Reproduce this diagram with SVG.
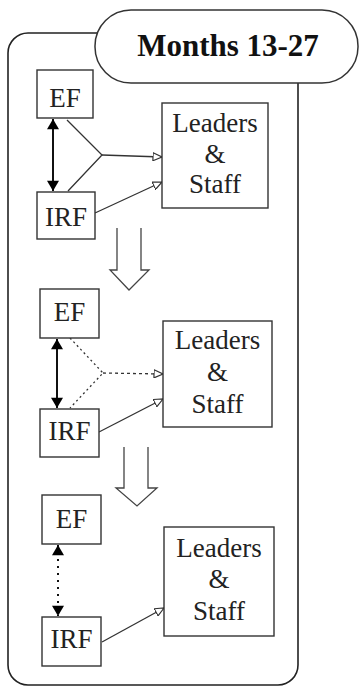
<svg xmlns="http://www.w3.org/2000/svg" width="359" height="687" viewBox="0 0 359 687">
<style>
.box{fill:#fff;stroke:#333;stroke-width:1.4}
.lbl{font-family:"Liberation Serif","Times New Roman",serif;font-size:27px;fill:#222;text-anchor:middle}
.ln{fill:none;stroke:#333;stroke-width:1.3}
.dbl{fill:none;stroke:#111;stroke-width:2}
.hollow{fill:none;stroke:#444;stroke-width:1.3}
</style>
<defs>
<marker id="open" viewBox="0 0 10 10" refX="10" refY="5" markerWidth="10" markerHeight="9" markerUnits="userSpaceOnUse" orient="auto">
<path d="M0,0.5 L10,5 L0,9.5 Z" fill="#fff" stroke="#333" stroke-width="1.3"/>
</marker>
<marker id="solid" viewBox="0 0 12 14" refX="12" refY="7" markerWidth="14" markerHeight="12" markerUnits="userSpaceOnUse" orient="auto-start-reverse">
<path d="M0,0 L12,7 L0,14 Z" fill="#000"/>
</marker>
</defs>
<g id="frame">
<rect x="8" y="33" width="290" height="652" rx="20" ry="20" fill="#fff" stroke="#222" stroke-width="1.6"/>
</g>
<g id="title">
<rect x="95" y="10" width="263" height="73" rx="36" ry="36" fill="#fff" stroke="#333" stroke-width="1.5"/>
<text x="228" y="56" font-family="Liberation Serif,'Times New Roman',serif" font-size="31" font-weight="bold" fill="#111" text-anchor="middle">Months 13-27</text>
</g>
<g id="connectors">
<line class="dbl" x1="53" y1="119" x2="53" y2="191" marker-start="url(#solid)" marker-end="url(#solid)"/>
<polyline class="ln" points="67,120 102,155 68,191"/>
<line class="ln" x1="102" y1="155" x2="162" y2="157" marker-end="url(#open)"/>
<line class="ln" x1="95" y1="213" x2="162" y2="182" marker-end="url(#open)"/>
<polyline class="hollow" points="117,228 117,270 110,270 129,290 149,270 141,270 141,228"/>
<line class="dbl" x1="57" y1="339" x2="57" y2="408" marker-start="url(#solid)" marker-end="url(#solid)"/>
<polyline class="ln" points="70,338 103,373 70,408" stroke-dasharray="2,3"/>
<line class="ln" x1="103" y1="373" x2="163" y2="374" stroke-dasharray="3,3" marker-end="url(#open)"/>
<line class="ln" x1="99" y1="432" x2="163" y2="399" marker-end="url(#open)"/>
<polyline class="hollow" points="124,447 124,488 116,488 137,506 157,488 148,488 148,447"/>
<line class="dbl" x1="58" y1="545" x2="58" y2="616" stroke-dasharray="2,5" marker-start="url(#solid)" marker-end="url(#solid)"/>
<line class="ln" x1="102" y1="642" x2="164" y2="608" marker-end="url(#open)"/>
</g>
<g id="ef1"><rect class="box" x="37" y="70" width="56" height="48"/><text class="lbl" x="65" y="107">EF</text></g>
<g id="irf1"><rect class="box" x="37" y="192" width="58" height="47"/><text class="lbl" x="66" y="226">IRF</text></g>
<g id="leaders1"><rect class="box" x="162" y="103" width="106" height="105"/><text class="lbl" x="215" y="132">Leaders</text><text class="lbl" x="215" y="163">&amp;</text><text class="lbl" x="215" y="193">Staff</text></g>
<g id="ef2"><rect class="box" x="40" y="289" width="59" height="49"/><text class="lbl" x="69.5" y="321">EF</text></g>
<g id="irf2"><rect class="box" x="40" y="409" width="59" height="48"/><text class="lbl" x="69.5" y="440">IRF</text></g>
<g id="leaders2"><rect class="box" x="163" y="321" width="109" height="106"/><text class="lbl" x="217.5" y="349">Leaders</text><text class="lbl" x="217.5" y="381">&amp;</text><text class="lbl" x="217.5" y="413">Staff</text></g>
<g id="ef3"><rect class="box" x="42" y="495" width="59" height="49"/><text class="lbl" x="71.5" y="528">EF</text></g>
<g id="irf3"><rect class="box" x="42" y="617" width="59" height="49"/><text class="lbl" x="71.5" y="648">IRF</text></g>
<g id="leaders3"><rect class="box" x="164" y="527" width="110" height="109"/><text class="lbl" x="219" y="557">Leaders</text><text class="lbl" x="219" y="588">&amp;</text><text class="lbl" x="219" y="620">Staff</text></g>
</svg>
